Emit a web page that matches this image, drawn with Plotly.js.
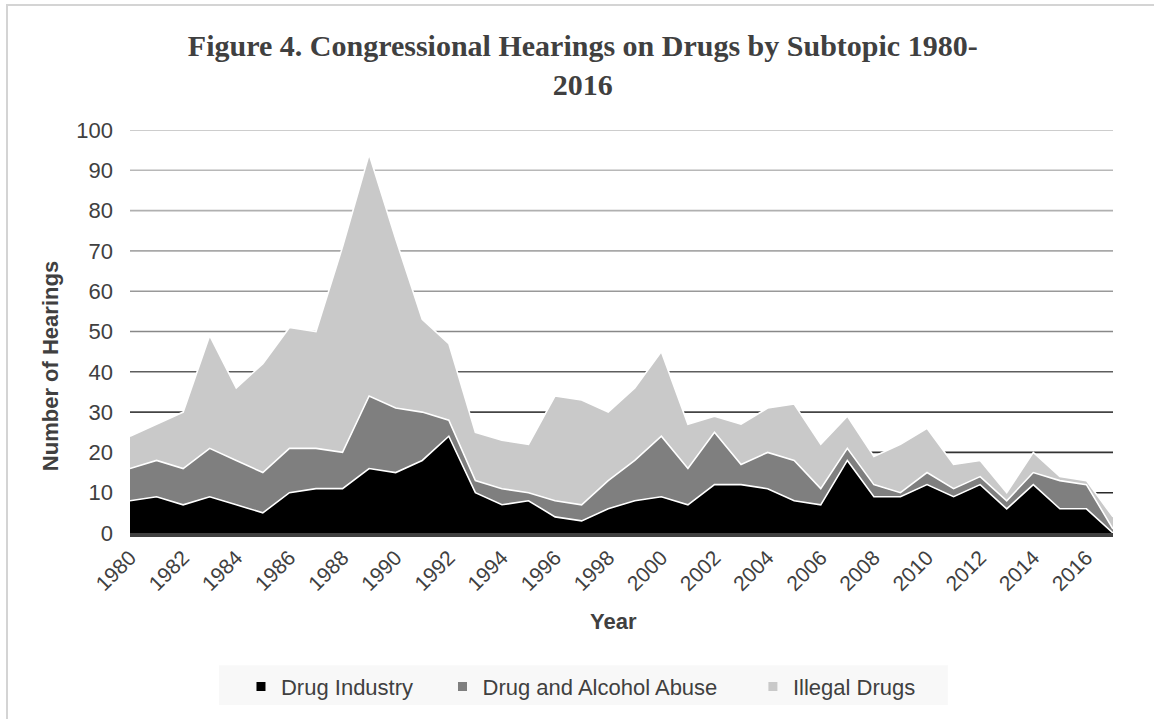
<!DOCTYPE html>
<html>
<head>
<meta charset="utf-8">
<script src="https://cdn.plot.ly/plotly-3.0.1.min.js"></script>
<style>
  html, body { margin: 0; padding: 0; background: #ffffff; overflow: hidden; }
  #chart { width: 1154px; height: 719px; }
  #frame {
    position: absolute; left: 6px; top: 4px; width: 1200px; height: 800px;
    border: 2px solid #d4d4d4; pointer-events: none;
  }
</style>
</head>
<body>
<div id="chart"></div>
<div id="frame"></div>
<script>
// Congressional hearings on drugs, by subtopic, per year
const years = [1980, 1981, 1982, 1983, 1984, 1985, 1986, 1987, 1988, 1989,
               1990, 1991, 1992, 1993, 1994, 1995, 1996, 1997, 1998, 1999,
               2000, 2001, 2002, 2003, 2004, 2005, 2006, 2007, 2008, 2009,
               2010, 2011, 2012, 2013, 2014, 2015, 2016, 2017];

const drugIndustry = [8, 9, 7, 9, 7, 5, 10, 11, 11, 16,
                      15, 18, 24, 10, 7, 8, 4, 3, 6, 8,
                      9, 7, 12, 12, 11, 8, 7, 18, 9, 9,
                      12, 9, 12, 6, 12, 6, 6, 0];

const drugAlcoholAbuse = [8, 9, 9, 12, 11, 10, 11, 10, 9, 18,
                          16, 12, 4, 3, 4, 2, 4, 4, 7, 10,
                          15, 9, 13, 5, 9, 10, 4, 3, 3, 1,
                          3, 2, 2, 2, 3, 7, 6, 1];

const illegalDrugs = [8, 9, 14, 28, 18, 27, 30, 29, 51, 60,
                      42, 23, 19, 12, 12, 12, 26, 26, 17, 18,
                      21, 11, 4, 10, 11, 14, 11, 8, 7, 12,
                      11, 6, 4, 2, 5, 1, 1, 3];

const seriesNames = ['Drug Industry', 'Drug and Alcohol Abuse', 'Illegal Drugs'];
const xTickYears = [1980, 1982, 1984, 1986, 1988, 1990, 1992, 1994, 1996, 1998,
                    2000, 2002, 2004, 2006, 2008, 2010, 2012, 2014, 2016];
const yTicks = [0, 10, 20, 30, 40, 50, 60, 70, 80, 90, 100];

// styling
const fillColors = ['#000000', '#7f7f7f', '#c9c9c9'];
const gridShades = {10: '#2a2a2a', 20: '#333333', 30: '#444444', 40: '#5e5e5e', 50: '#888888',
                    60: '#999999', 70: '#a8a8a8', 80: '#b0b0b0', 90: '#b8b8b8', 100: '#bcbcbc'};
const legendPad = ['\u00a0\u00a0\u00a0\u00a0', '\u00a0\u00a0\u00a0\u00a0\u00a0', ''];
const sans = 'Liberation Sans, Arial, Helvetica, sans-serif';
const textColor = '#404040';

const seriesValues = [drugIndustry, drugAlcoholAbuse, illegalDrugs];

const areaTraces = seriesValues.map((vals, i) => ({
  type: 'scatter',
  mode: 'lines',
  x: years,
  y: vals,
  name: seriesNames[i],
  stackgroup: 'hearings',
  fillcolor: fillColors[i],
  line: {color: '#ffffff', width: 1.6, shape: 'linear'},
  showlegend: false,
  hoverinfo: 'x+y+name'
}));

// legend keys drawn as small squares
const legendTraces = seriesNames.map((name, i) => ({
  type: 'scatter',
  mode: 'markers',
  x: [null],
  y: [null],
  name: name + legendPad[i],
  marker: {symbol: 'square', size: 9, color: fillColors[i]},
  showlegend: true,
  hoverinfo: 'skip'
}));

const gridLines = yTicks.filter(v => v > 0).map(v => ({
  type: 'line', layer: 'below',
  xref: 'paper', x0: 0, x1: 1,
  yref: 'y', y0: v, y1: v,
  line: {color: gridShades[v], width: 1.6}
}));

// light panel behind the legend
const legendPanel = {
  type: 'rect', layer: 'below',
  xref: 'paper', yref: 'paper',
  x0: 0.0905, x1: 0.832, y0: -0.427, y1: -0.328,
  fillcolor: '#f8f8f8', line: {width: 0}
};

const layout = {
  width: 1154,
  height: 719,
  margin: {l: 130, r: 41, t: 130, b: 185},
  paper_bgcolor: '#ffffff',
  plot_bgcolor: '#ffffff',
  title: {
    text: '<b>Figure 4. Congressional Hearings on Drugs by Subtopic 1980-<br>2016</b>',
    font: {family: 'Liberation Serif, Times New Roman, serif', size: 30, color: textColor},
    xref: 'container', x: 0.505, xanchor: 'center',
    yref: 'container', y: 0.922, yanchor: 'middle'
  },
  xaxis: {
    type: 'linear',
    range: [years[0], years[years.length - 1]],
    tickmode: 'array',
    tickvals: xTickYears,
    ticktext: xTickYears.map(String),
    tickangle: -45,
    tickfont: {family: sans, size: 21, color: textColor},
    showgrid: false,
    zeroline: false,
    showline: true,
    linecolor: '#404040',
    linewidth: 4,
    ticks: '',
    fixedrange: true
  },
  yaxis: {
    range: [0, 100],
    tickmode: 'array',
    tickvals: yTicks,
    tickfont: {family: sans, size: 22, color: textColor},
    showgrid: false,
    zeroline: false,
    showline: false,
    ticks: '',
    ticklabelstandoff: 16,
    fixedrange: true
  },
  shapes: [legendPanel].concat(gridLines),
  annotations: [
    {
      text: '<b>Number of Hearings</b>',
      xref: 'paper', yref: 'paper', x: -0.0814, y: 0.414,
      xanchor: 'center', yanchor: 'middle', textangle: -90, showarrow: false,
      font: {family: sans, size: 22, color: textColor}
    },
    {
      text: '<b>Year</b>',
      xref: 'paper', yref: 'paper', x: 0.492, y: -0.219,
      xanchor: 'center', yanchor: 'middle', showarrow: false,
      font: {family: sans, size: 22, color: textColor}
    }
  ],
  legend: {
    orientation: 'h',
    traceorder: 'normal',
    x: 0.1129, xanchor: 'left',
    y: -0.378, yanchor: 'middle',
    bgcolor: 'rgba(0,0,0,0)',
    borderwidth: 0,
    itemwidth: 30,
    font: {family: sans, size: 22, color: textColor}
  },
  showlegend: true
};

Plotly.newPlot('chart', areaTraces.concat(legendTraces), layout, {displayModeBar: false, staticPlot: true});
</script>
</body>
</html>
